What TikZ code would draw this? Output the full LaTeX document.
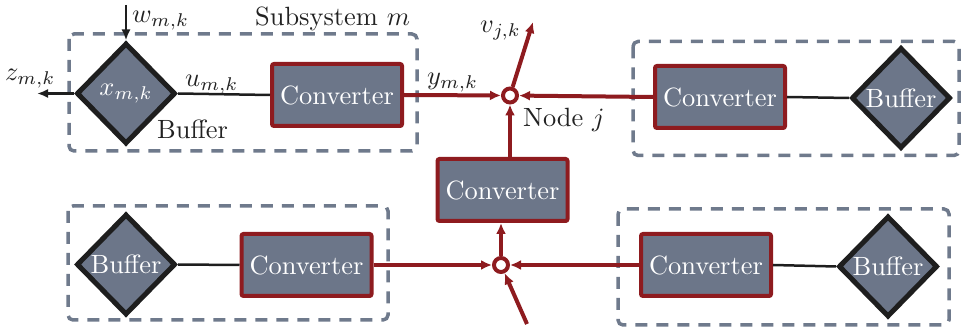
\documentclass[tikz,border=0pt]{standalone}
\usepackage{graphicx}
\usetikzlibrary{shapes.geometric,arrows.meta}
\definecolor{cfill}{HTML}{6C7689}
\definecolor{cred}{HTML}{8E1B1F}
\definecolor{cdash}{HTML}{6F7A8C}
\definecolor{cblack}{HTML}{1E1E1E}
\definecolor{ctext}{HTML}{222222}
\newcommand\sbx[1]{\scalebox{2.64}{#1}}
\tikzset{
 conv/.style={draw=cred, fill=cfill, line width=4pt, rounded corners=2pt, minimum width=130pt, minimum height=62pt, text=white, inner sep=0pt},
 buf/.style={diamond, draw=cblack, fill=cfill, line width=5pt, minimum width=99pt, minimum height=101pt, inner sep=0pt, text=white},
 subsys/.style={draw=cdash, line width=3.5pt, dash pattern=on 12pt off 9pt, rounded corners=5pt},
 junc/.style={circle, draw=cred, fill=white, line width=4pt, minimum size=14pt, inner sep=0pt},
 redarr/.style={draw=cred, line width=4pt, -{Latex[length=11pt,width=10pt]}},
 blk/.style={draw=cblack, line width=2.5pt},
 blkarr/.style={draw=cblack, line width=2.5pt, -{Latex[length=11pt,width=9pt]}},
 lab/.style={text=ctext, inner sep=0pt, anchor=base west}
}
\begin{document}
\begin{tikzpicture}[x=1pt,y=-1pt]
\useasboundingbox (0,0) rectangle (962,331);
% subsystem boxes
\draw[subsys] (69,34) rectangle (417,151);
\draw[subsys] (633,41.5) rectangle (959,155.5);
\draw[subsys] (68,206) rectangle (388,320);
\draw[subsys] (618,209) rectangle (949,325);
% nodes
\node[buf] (tlbuf) at (126,93.5) {\sbx{$x_{m,k}$}};
\node[conv] (tlconv) at (337,95) {\sbx{Converter}};
\node[junc] (cj) at (510,95.5) {};
\node[conv] (trconv) at (720,97) {\sbx{Converter}};
\node[buf] (trbuf) at (901,98) {\sbx{Buffer}};
\node[conv] (mid) at (502.5,190) {\sbx{Converter}};
\node[buf] (blbuf) at (126,264.5) {\sbx{Buffer}};
\node[conv] (blconv) at (306.5,265) {\sbx{Converter}};
\node[junc] (cb) at (501,265) {};
\node[conv] (brconv) at (706,265) {\sbx{Converter}};
\node[buf] (brbuf) at (888,266.5) {\sbx{Buffer}};
% free ends
\coordinate (wtop) at (126,5);
\coordinate (zend) at (37,93.5);
\coordinate (vend) at (533,22);
\coordinate (inlow) at (527,324);
% labels
\node[lab] (sublab) at (255,26) {\sbx{Subsystem $m$}};
\node[lab] (wlab) at (132,23) {\sbx{$w_{m,k}$}};
\node[lab] (zlab) at (5,81) {\sbx{$z_{m,k}$}};
\node[lab] (ulab) at (185,87) {\sbx{$u_{m,k}$}};
\node[lab] (buflab) at (157,139) {\sbx{Buffer}};
\node[lab] (ylab) at (427,85) {\sbx{$y_{m,k}$}};
\node[lab] (vlab) at (480,33) {\sbx{$v_{j,k}$}};
\node[lab] (nodelab) at (523,127) {\sbx{Node $j$}};
% connectors
\draw[blkarr] (wtop) -- (tlbuf.north);
\draw[blkarr] (tlbuf.west) -- (zend);
\draw[blk] (tlbuf.east) -- (tlconv.west);
\draw[redarr] (tlconv.east) -- (cj);
\draw[redarr] (trconv.west) -- (cj);
\draw[blk] (trconv.east) -- (trbuf.west);
\draw[redarr] (cj) -- (vend);
\draw[redarr] (cj |- mid.north) -- (cj);
\draw[blk] (blbuf.east) -- (blconv.west);
\draw[redarr] (blconv.east) -- (cb);
\draw[redarr] (brconv.west) -- (cb);
\draw[blk] (brconv.east) -- (brbuf.west);
\draw[redarr] (cb) -- (cb |- mid.south);
\draw[redarr] (inlow) -- (cb);
\end{tikzpicture}
\end{document}
